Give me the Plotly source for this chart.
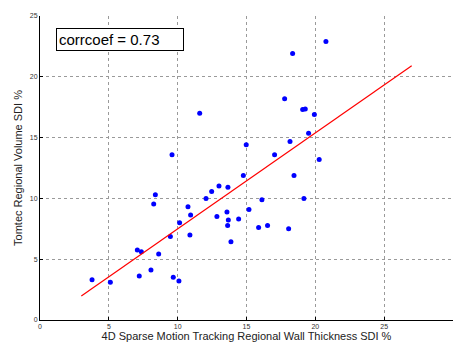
import plotly.graph_objects as go

# Scatter data: 4D sparse motion tracking regional wall thickness SDI % vs Tomtec regional volume SDI %
x_vals = [3.78, 5.11, 7.07, 7.36, 7.21, 8.06, 8.62, 8.26, 8.38, 9.47, 9.68, 10.09,
          10.14, 10.75, 10.94, 10.89, 12.06, 12.47, 13.0, 12.85, 13.65, 13.58, 13.68,
          13.63, 13.87, 14.77, 18.45, 19.17, 16.12, 15.18, 14.43, 15.88, 16.53, 18.06,
          20.77, 18.35, 17.77, 19.08, 19.27, 19.93, 19.51, 14.98, 18.16, 17.04, 20.28,
          11.6, 9.59]
y_vals = [3.31, 3.10, 5.75, 5.62, 3.62, 4.11, 5.42, 9.53, 10.30, 6.87, 3.51, 3.20,
          8.0, 9.31, 8.63, 6.98, 10.0, 10.57, 11.01, 8.52, 10.92, 8.89, 8.22,
          7.78, 6.43, 11.89, 11.89, 10.0, 9.89, 9.09, 8.30, 7.61, 7.78, 7.51,
          22.9, 21.91, 18.19, 17.31, 17.36, 16.9, 15.36, 14.41, 14.68, 13.58, 13.2,
          17.0, 13.58]

# Regression line end points
fit_x = [3.0, 27.0]
fit_y = [1.97, 20.9]

corr_label = "corrcoef = 0.73"
x_title = "4D Sparse Motion Tracking Regional Wall Thickness SDI %"
y_title = "Tomtec Regional Volume SDI %"
x_ticks = [0, 5, 10, 15, 20, 25, 30]
y_ticks = [0, 5, 10, 15, 20, 25]

FONT = "Liberation Sans, Arial, Helvetica, sans-serif"

fig = go.Figure()
fig.add_trace(go.Scatter(x=x_vals, y=y_vals, mode="markers",
                         marker=dict(color="#0000FF", size=5, line=dict(width=0)),
                         showlegend=False))
fig.add_trace(go.Scatter(x=fit_x, y=fit_y, mode="lines",
                         line=dict(color="#FF0000", width=1.2),
                         showlegend=False))

axis_common = dict(
    showgrid=True, gridcolor="#9a9a9a", griddash="dot", gridwidth=1,
    zeroline=False, showline=True, linecolor="black", linewidth=1,
    ticks="inside", ticklen=3, tickcolor="black",
    tickfont=dict(size=7, color="#333333", family=FONT),
    mirror=False,
)

fig.update_layout(
    width=453, height=342,
    margin=dict(l=40, r=0, t=16, b=22),
    paper_bgcolor="white", plot_bgcolor="white",
    font=dict(family=FONT, color="#222222"),
    xaxis=dict(range=[0, 30], tickvals=x_ticks,
               title=dict(text=x_title, font=dict(size=11, family=FONT, color="#222222"), standoff=0),
               **axis_common),
    yaxis=dict(range=[0, 25], tickvals=y_ticks,
               title=dict(text=y_title, font=dict(size=11, family=FONT, color="#222222"), standoff=4),
               **axis_common),
    annotations=[dict(
        x=1.15, y=24.05, xref="x", yref="y", xanchor="left", yanchor="top",
        text=corr_label, showarrow=False, align="left",
        font=dict(size=15, family=FONT, color="black"),
        bgcolor="white", bordercolor="black", borderwidth=1, borderpad=2,
        width=122,
    )],
)

fig.write_html("out.html")
